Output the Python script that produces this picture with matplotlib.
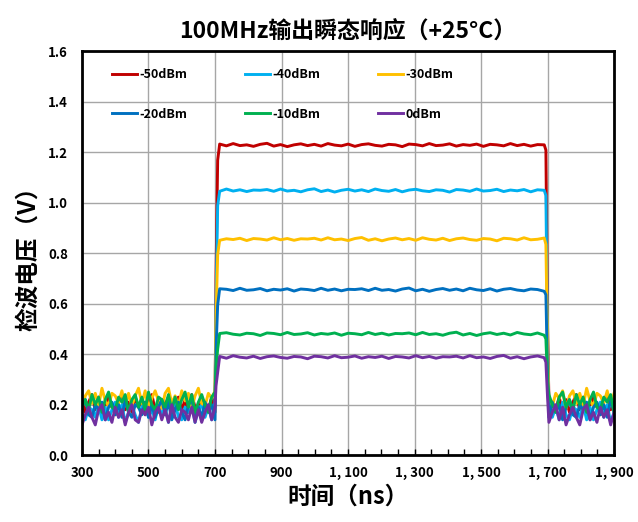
import numpy as np
import matplotlib
matplotlib.use("Agg")
import matplotlib.pyplot as plt
from matplotlib.ticker import MultipleLocator

plt.rcParams['font.family'] = ['Noto Sans CJK SC', 'DejaVu Sans']

# 数据
labels = ['-50dBm', '-40dBm', '-30dBm', '-20dBm', '-10dBm', '0dBm']
colors = ['#C00000', '#00B0F0', '#FFC000', '#0070C0', '#00B050', '#7030A0']
high_level = [1.228, 1.048, 0.855, 0.655, 0.480, 0.388]
low_level = [0.200, 0.170, 0.225, 0.180, 0.210, 0.160]
shift = [0, 7, 14, 21, 28, 35]

# 基线噪声 (V), 读图估计
base_jit = [0.02, -0.03, 0.01, 0.04, -0.02, 0.03, -0.04, 0.00, 0.03, -0.01,
            -0.04, 0.02, 0.04, -0.02, 0.01, -0.03, 0.03, -0.01, 0.02, -0.04,
            0.01, 0.04, -0.02, -0.03, 0.02, 0.00, 0.03, -0.04, 0.01, 0.03,
            -0.02, 0.02, -0.03, 0.04, -0.01, -0.03, 0.02, 0.01, -0.02, 0.03,
            -0.03]
# 平台纹波 (V)
ripple = [0.004, -0.003, 0.006, -0.002, 0.001, -0.005, 0.003, 0.007, -0.004, 0.002,
          -0.006, 0.001, 0.005, -0.002, 0.003, -0.004, 0.006, 0.000, -0.003, 0.004,
          -0.005, 0.002, 0.005, -0.001, -0.004, 0.003, 0.001, -0.006, 0.004, 0.002,
          -0.003, 0.006, -0.002, 0.000, 0.005, -0.004, 0.002, -0.001, 0.004, -0.005,
          0.003, 0.001, -0.003, 0.006, -0.002, 0.003, -0.004, 0.002, 0.001]

t_left = np.linspace(300, 700, len(base_jit))
t_plat = np.linspace(714, 1690, len(ripple))
t_right = np.linspace(1704, 1900, 20)

xticks = [300, 500, 700, 900, 1100, 1300, 1500, 1700, 1900]
xticklabels = ['300', '500', '700', '900', '1, 100', '1, 300', '1, 500', '1, 700', '1, 900']
yticks = [0.0, 0.2, 0.4, 0.6, 0.8, 1.0, 1.2, 1.4, 1.6]

fig = plt.figure(figsize=(6.38, 5.22), dpi=100)
ax = fig.add_axes([0.1285, 0.128, 0.834, 0.774])

handles = []
for i in range(len(labels)):
    lo, hi = low_level[i], high_level[i]
    jl = np.roll(base_jit, shift[i])
    rp = np.roll(ripple, shift[i])
    jr = np.roll(base_jit, shift[i] + 5)[:len(t_right)]
    t = np.concatenate([t_left, [703, 708], t_plat, [1695, 1700], t_right])
    y = np.concatenate([lo + jl, [lo + 0.5 * (hi - lo), hi - 0.06], hi + rp,
                        [hi - 0.02, lo + 0.3 * (hi - lo)], lo + jr])
    h, = ax.plot(t, y, color=colors[i], lw=2.1, label=labels[i])
    handles.append(h)

ax.set_xlim(300, 1900)
ax.set_ylim(0, 1.6)
ax.set_xticks(xticks)
ax.set_xticklabels(xticklabels)
ax.set_yticks(yticks)
ax.set_yticklabels(['%.1f' % v for v in yticks])
ax.xaxis.set_minor_locator(MultipleLocator(50))
ax.grid(True, color='#a6a6a6', lw=1.0)
ax.set_axisbelow(True)
ax.tick_params(axis='x', which='both', direction='in', length=4, width=1, pad=8)
ax.tick_params(axis='y', length=0, pad=10)
for lab in ax.get_xticklabels() + ax.get_yticklabels():
    lab.set_fontsize(9.5)
    lab.set_fontweight('bold')
for s in ax.spines.values():
    s.set_linewidth(2)
    s.set_color('black')

ax.set_title('100MHz输出瞬态响应（+25°C）', fontsize=16.5, fontweight='bold', pad=9)
ax.set_xlabel('时间（ns）', fontsize=17, fontweight='bold', labelpad=3)
ax.set_ylabel('检波电压（V）', fontsize=17, fontweight='bold', labelpad=6)

# 图例按行排列
order = [0, 3, 1, 4, 2, 5]
ax.legend([handles[k] for k in order], [labels[k] for k in order],
          loc='upper left', bbox_to_anchor=(0.035, 0.985), ncol=3, frameon=False,
          handlelength=2.0, handletextpad=0.2, columnspacing=4.6, labelspacing=2.1,
          prop={'size': 9, 'weight': 'bold'})

fig.savefig('out.png', dpi=100)
